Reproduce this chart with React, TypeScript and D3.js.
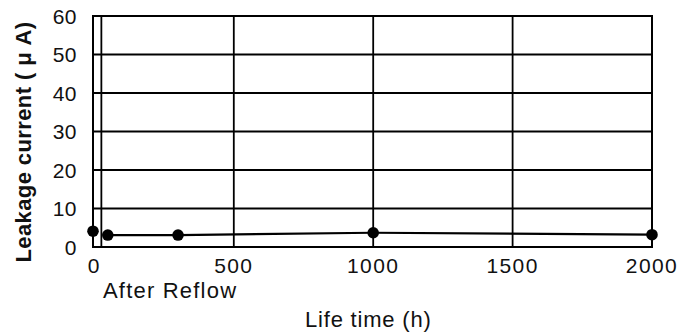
import React from "react";
import * as d3 from "d3";

const hours = [-5, 48, 300, 1000, 2000];
const leakage = [4.1, 3.1, 3.1, 3.7, 3.2];
const xTicks = [0, 500, 1000, 1500, 2000];
const xGrid = [25, 500, 1000, 1500];
const yTicks = [0, 10, 20, 30, 40, 50, 60];

const W = 683;
const H = 335;
const L = 93, R = 652, T = 16, B = 247;

export default function App() {
  const x = d3.scaleLinear().domain([-5, 2000]).range([L, R]);
  const y = d3.scaleLinear().domain([0, 60]).range([B, T]);
  const pts = hours.map((h, i) => ({ h, v: leakage[i] }));
  const line = d3
    .line<{ h: number; v: number }>()
    .x((d) => x(d.h))
    .y((d) => y(d.v));
  const font = "'Liberation Sans', Arial, Helvetica, sans-serif";
  return (
    <svg
      width={W}
      height={H}
      style={{ position: "absolute", left: 0, top: 0, background: "#fff" }}
    >
      <rect x={0} y={0} width={W} height={H} fill="#fff" />
      {yTicks.slice(1, -1).map((t) => (
        <line key={"gy" + t} x1={L} x2={R} y1={y(t)} y2={y(t)} stroke="#000" strokeWidth={1.8} />
      ))}
      {xGrid.map((t) => (
        <line key={"gx" + t} x1={x(t)} x2={x(t)} y1={T} y2={B} stroke="#000" strokeWidth={1.8} />
      ))}
      <rect x={L} y={T} width={R - L} height={B - T} fill="none" stroke="#000" strokeWidth={2} />
      <path d={line(pts.slice(1)) || ""} fill="none" stroke="#000" strokeWidth={2.2} />
      {pts.map((p, i) => (
        <circle key={i} cx={x(p.h)} cy={y(p.v)} r={5.8} fill="#000" />
      ))}
      {yTicks.map((t) => (
        <text
          key={"yl" + t}
          x={77}
          y={y(t)}
          dy="0.36em"
          textAnchor="end"
          fontFamily={font}
          fontSize={21}
          letterSpacing={0.5}
          fill="#111"
        >
          {t}
        </text>
      ))}
      {xTicks.map((t) => (
        <text
          key={"xl" + t}
          x={x(t)}
          y={273}
          textAnchor="middle"
          fontFamily={font}
          fontSize={21}
          letterSpacing={1.4}
          fill="#111"
        >
          {t}
        </text>
      ))}
      <text x={103} y={298} fontFamily={font} fontSize={22} letterSpacing={1.2} fill="#111">
        After Reflow
      </text>
      <text x={305} y={327} fontFamily={font} fontSize={22} letterSpacing={0.8} fill="#111">
        Life time (h)
      </text>
      <text
        transform={`translate(31,142) rotate(-90)`}
        textAnchor="middle"
        fontFamily={font}
        fontSize={22}
        fontWeight="bold"
        letterSpacing={0.4}
        fill="#111"
      >
        Leakage current ( μ A)
      </text>
    </svg>
  );
}
